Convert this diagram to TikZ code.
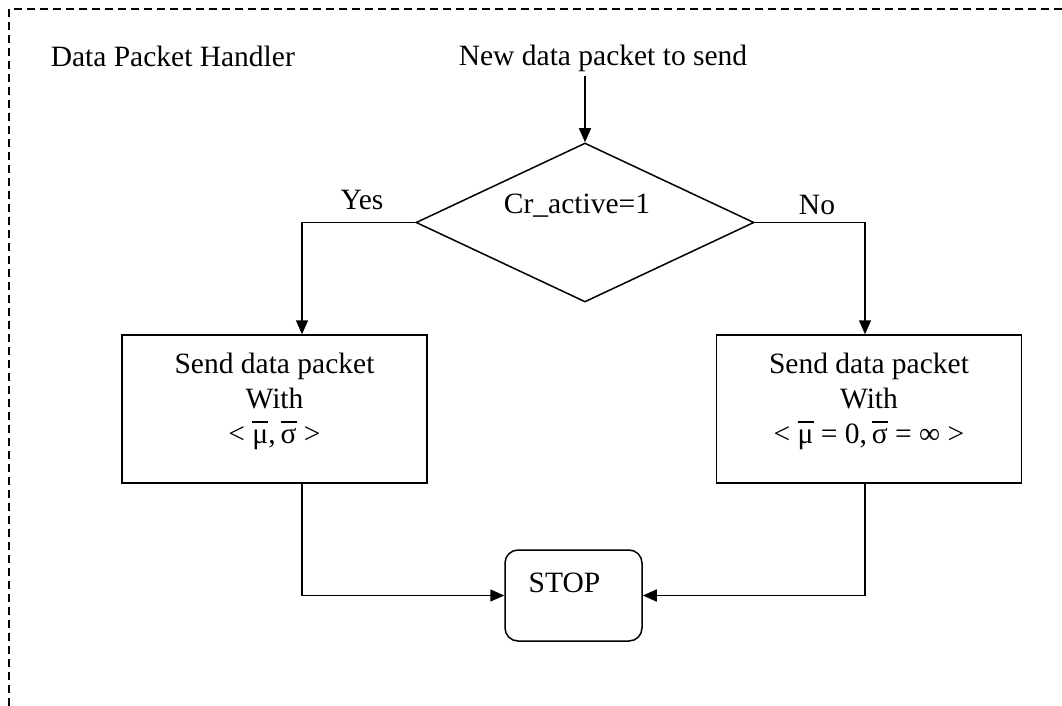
\documentclass[tikz,border=0pt]{standalone}
\usepackage{fontspec}
\setmainfont{Liberation Serif}
\usetikzlibrary{shapes.geometric,arrows.meta}
\newcommand\ob[1]{\setbox0\hbox{#1}\rlap{\raise0.70em\hbox{\rule{\wd0}{0.045em}}}\box0\relax}
\begin{document}
\begin{tikzpicture}[x=1pt,y=-1pt,
  font=\fontsize{29.5}{35}\selectfont,
  line width=1.5pt,
  arr/.style={-{Triangle[length=14pt,width=12pt]}},
  txt/.style={inner sep=0pt,anchor=base},
  boxnode/.style={draw,rectangle,minimum width=305pt,minimum height=148pt,inner sep=0pt},
  boxtext/.style={inner sep=0pt,anchor=north,align=center},
  stopbox/.style={draw,rectangle,rounded corners=13pt,minimum width=137pt,minimum height=91pt,inner sep=0pt},
  decision/.style={draw,diamond,minimum width=338pt,minimum height=159pt,inner sep=0pt},
  frame/.style={line width=1.8pt,dash pattern=on 8pt off 5pt}]
\useasboundingbox (0,0) rectangle (1062,706);
% dashed frame
\draw[frame] (9,706) -- (9,9) -- (1062,9);
% texts at top
\node[txt,anchor=base west] (title) at (50,67) {Data Packet Handler};
\node[txt] (new) at (603,66) {New data packet to send};
\coordinate (top) at (585,76);
% decision
\node[decision] (dia) at (585,222.5) {};
\node[txt] (cond) at (577,213) {Cr\_active=1};
\node[txt] (yes) at (362,209) {Yes};
\node[txt] (no) at (817,214) {No};
% boxes
\node[boxnode] (lbox) at (274.5,409) {};
\node[boxtext] (ltext) at (274.5,352) {Send data packet\\With\\< \ob{μ},\thinspace\ob{σ} >};
\node[boxnode] (rbox) at (869,409) {};
\node[boxtext] (rtext) at (869,352) {Send data packet\\With\\< \ob{μ} = 0,\thinspace\ob{σ} = ∞ >};
% stop
\node[stopbox] (stop) at (573.5,595.5) {};
\node[txt] (stoptxt) at (564.5,592) {STOP};
% connectors
\coordinate (lx) at (302,0);
\coordinate (rx) at (865,0);
\draw[arr] (top) -- (dia.north);
\draw[arr] (dia.west) -| (lx |- lbox.north);
\draw[arr] (dia.east) -| (rx |- rbox.north);
\draw[arr] (lx |- lbox.south) |- (stop.west);
\draw[arr] (rx |- rbox.south) |- (stop.east);
\end{tikzpicture}
\end{document}
